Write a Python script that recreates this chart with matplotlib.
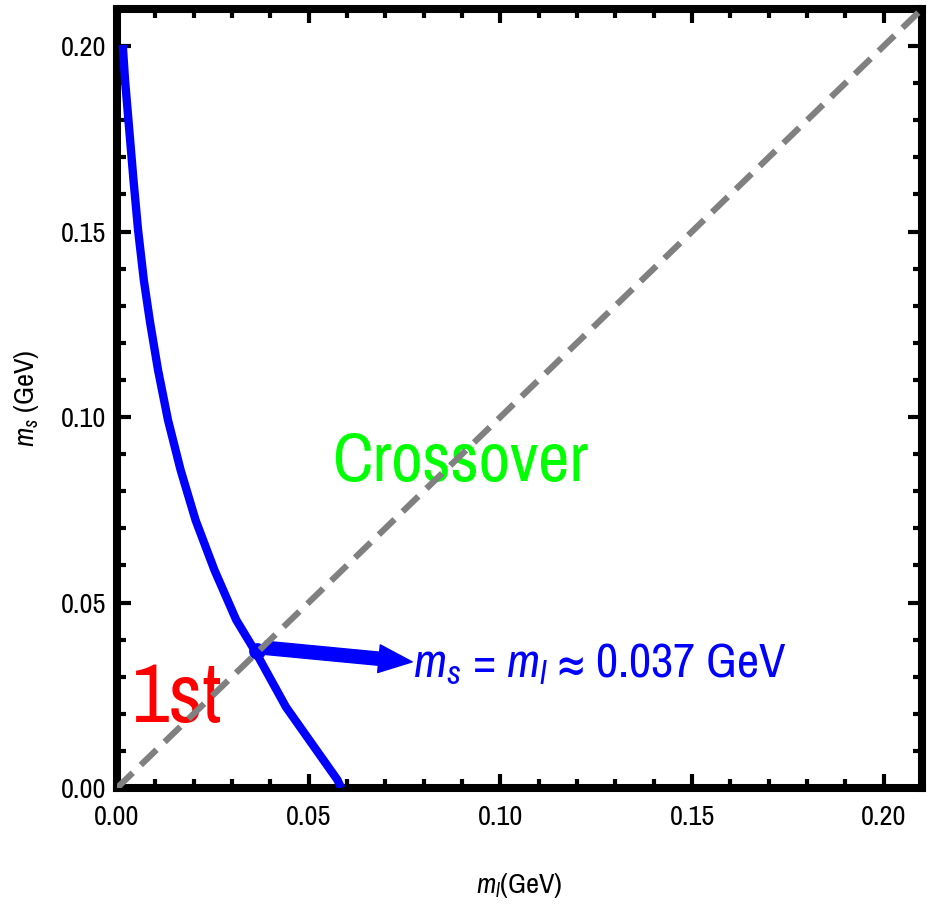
import numpy as np
import matplotlib
matplotlib.use("Agg")
import matplotlib.pyplot as plt
from matplotlib import font_manager
from matplotlib.patches import FancyArrowPatch
from matplotlib.ticker import MultipleLocator, FixedLocator

# ---- data ----
curve_ml = [0.0015, 0.0021, 0.0032, 0.0043, 0.0055, 0.0070, 0.0086, 0.0107, 0.0133,
            0.0166, 0.0205, 0.0254, 0.0311, 0.0362, 0.0441, 0.0575, 0.0585]
curve_ms = [0.2003, 0.1908, 0.1774, 0.1639, 0.1504, 0.1369, 0.1257, 0.1127, 0.0992,
            0.0857, 0.0722, 0.0588, 0.0453, 0.0366, 0.0218, 0.0022, 0.0000]
diag = [0.0, 0.21]
cross_point = (0.0365, 0.0368)
arrow_start = (0.0385, 0.0378)
arrow_end = (0.0770, 0.0340)
ticks = [0.00, 0.05, 0.10, 0.15, 0.20]
tick_labels = ["0.00", "0.05", "0.10", "0.15", "0.20"]

# pick a condensed sans if one is installed
names = sorted({f.name for f in font_manager.fontManager.ttflist})
narrow = [n for n in names if ('Narrow' in n or 'Condensed' in n)]
if narrow:
    main = narrow[0]
    k = 0.85
else:
    main = "Liberation Sans"
    k = 0.72

plt.rcParams['font.family'] = [main, "Liberation Sans", "DejaVu Sans"]
plt.rcParams['mathtext.fontset'] = 'custom'
plt.rcParams['mathtext.it'] = main + ':italic'
plt.rcParams['mathtext.rm'] = main

fig = plt.figure(figsize=(9.3, 9.09), dpi=100)
ax = fig.add_axes([117/930, 121/909, 805/930, 779/909])

ax.plot(curve_ml, curve_ms, color='#0000ff', lw=6, solid_capstyle='butt',
        solid_joinstyle='round', zorder=3)
ax.plot([cross_point[0]], [cross_point[1]], 'o', color='#0000ff', ms=11, zorder=3)
ax.plot(diag, diag, color='#808080', lw=4.5, ls=(0, (3.5, 1.8)), zorder=5)

arr = FancyArrowPatch(arrow_start, arrow_end,
                      arrowstyle='simple,head_length=24,head_width=20,tail_width=9.5',
                      mutation_scale=1, color='#0000ff', zorder=4, shrinkA=0, shrinkB=0)
ax.add_patch(arr)

ax.text(0.0772, 0.0300, r"$m_s$ = $m_l$ ≈ 0.037 GeV", color='#0000ff', fontsize=41 * k,
        ha='left', va='baseline', zorder=4)
ax.text(0.0895, 0.088, "Crossover", color='#00ff00', fontsize=58 * k, ha='center', va='center', zorder=4)
ax.text(0.0156, 0.0240, "1st", color='#ff0000', fontsize=70 * k, ha='center', va='center', zorder=4)

ax.set_xlim(0, 0.21)
ax.set_ylim(0, 0.21)
ax.xaxis.set_major_locator(FixedLocator(ticks))
ax.yaxis.set_major_locator(FixedLocator(ticks))
ax.set_xticklabels(tick_labels)
ax.set_yticklabels(tick_labels)
ax.xaxis.set_minor_locator(MultipleLocator(0.01))
ax.yaxis.set_minor_locator(MultipleLocator(0.01))
ax.tick_params(which='both', direction='in', top=True, right=True, labelsize=24 * k, width=3)
ax.tick_params(which='major', length=10, pad=12)
ax.tick_params(which='minor', length=6.5)
ax.tick_params(axis='y', which='major', pad=8)
for s in ax.spines.values():
    s.set_linewidth(5.8)

ax.set_xlabel(r"$m_l$(GeV)", fontsize=24 * k, labelpad=30)
ax.set_ylabel(r"$m_s$ (GeV)", fontsize=24 * k, labelpad=14)

fig.savefig("out.png", dpi=100)
